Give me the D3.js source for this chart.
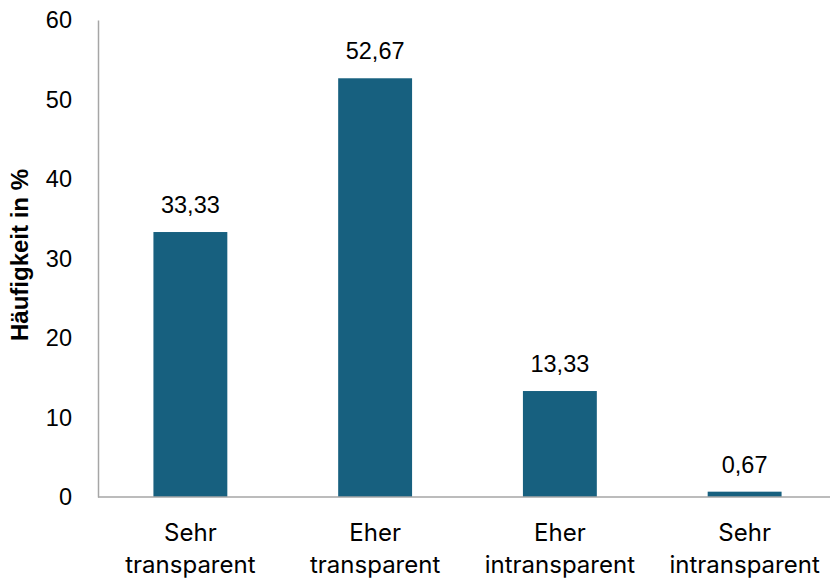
<!DOCTYPE html>
<html>
<head>
<meta charset="utf-8">
<script src="https://cdn.jsdelivr.net/npm/d3@7"></script>
<style>
  html, body { margin: 0; padding: 0; background: #fff; }
  svg { display: block; }
</style>
</head>
<body>
<svg id="chart" width="830" height="581"></svg>
<script>
// Bewertung der Transparenz – Häufigkeit in %
const categories = [["Sehr", "transparent"], ["Eher", "transparent"], ["Eher", "intransparent"], ["Sehr", "intransparent"]];
const values = [33.33, 52.67, 13.33, 0.67];
const valueLabels = ["33,33", "52,67", "13,33", "0,67"];
const yTicks = [0, 10, 20, 30, 40, 50, 60];
const yTitle = "Häufigkeit in %";

const svg = d3.select("#chart");
const x0 = 98, x1 = 837, yTop = 20, yBottom = 497;

const x = d3.scaleBand().domain(d3.range(categories.length)).range([x0, x1]).padding(0);
const y = d3.scaleLinear().domain([0, 60]).range([yBottom, yTop]);
const barW = x.bandwidth() * 0.4;
const barColor = "#17607f";
const axisColor = "#a6a6a6";
const labelFont = "Inter, 'Open Sans', sans-serif";
const numFont = "'Liberation Sans', Arial, sans-serif";

// bars
svg.selectAll("rect.bar").data(values).join("rect")
  .attr("class", "bar")
  .attr("x", (d, i) => x(i) + x.bandwidth() / 2 - barW / 2)
  .attr("width", barW)
  .attr("y", d => y(d))
  .attr("height", d => y(0) - y(d))
  .attr("fill", barColor);

// value labels
svg.selectAll("text.val").data(values).join("text")
  .attr("class", "val")
  .attr("x", (d, i) => x(i) + x.bandwidth() / 2)
  .attr("y", d => y(d) - 19)
  .attr("text-anchor", "middle")
  .attr("font-family", numFont)
  .attr("font-size", 23.5)
  .attr("fill", "#000")
  .text((d, i) => valueLabels[i]);

// y axis (labels only, no ticks)
const yAxis = d3.axisLeft(y).tickValues(yTicks).tickSize(0).tickPadding(26).tickFormat(d3.format("d"));
const gy = svg.append("g").attr("transform", `translate(${x0},0)`).call(yAxis);
gy.select(".domain").attr("stroke", axisColor).attr("stroke-width", 1.5);
gy.selectAll("text")
  .attr("font-family", numFont)
  .attr("font-size", 23.5)
  .attr("fill", "#000");

// baseline
svg.append("line")
  .attr("x1", x0).attr("x2", 830)
  .attr("y1", y(0)).attr("y2", y(0))
  .attr("stroke", axisColor).attr("stroke-width", 1.5);

// category labels
const cat = svg.selectAll("text.cat").data(categories).join("text")
  .attr("class", "cat")
  .attr("text-anchor", "middle")
  .attr("font-family", labelFont)
  .attr("font-size", 24)
  .attr("fill", "#000");
cat.selectAll("tspan").data((d, i) => d.map(t => ({ t, i }))).join("tspan")
  .attr("x", d => x(d.i) + x.bandwidth() / 2)
  .attr("y", (d, j) => 541 + j * 32)
  .text(d => d.t);

// y title
svg.append("text")
  .attr("transform", `translate(28, 255) rotate(-90)`)
  .attr("text-anchor", "middle")
  .attr("font-family", numFont)
  .attr("font-weight", "bold")
  .attr("font-size", 24)
  .attr("fill", "#000")
  .text(yTitle);
</script>
</body>
</html>
